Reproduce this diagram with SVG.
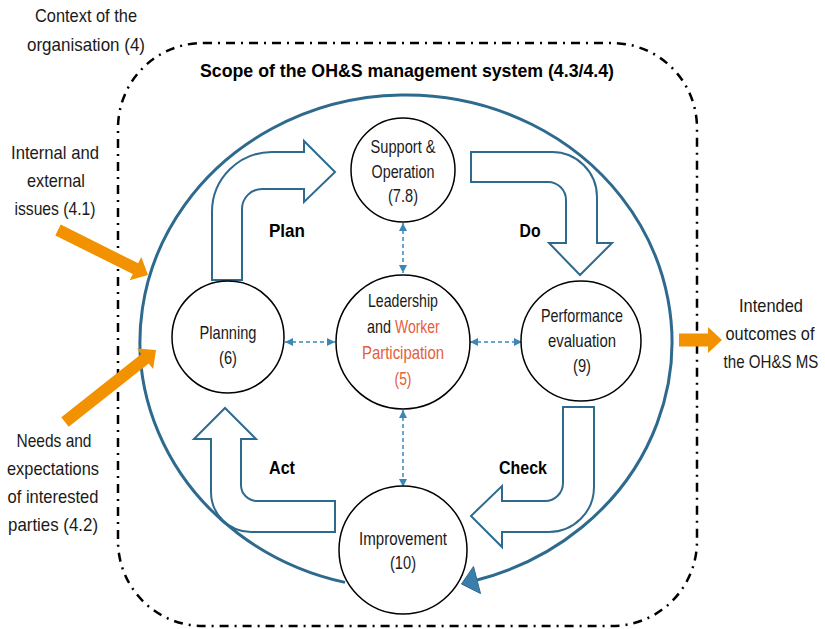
<svg xmlns="http://www.w3.org/2000/svg" width="825" height="629" viewBox="0 0 825 629">
<defs>
<style>
.t{font-family:"Liberation Sans",Arial,sans-serif;font-size:19px;fill:#1a1a1a;text-anchor:middle}
.s{text-anchor:start}
.b{font-weight:bold;fill:#000}
.r{fill:#e5603b}
.node{fill:#fff;stroke:#000;stroke-width:1.5}
.blk{fill:#fff;stroke:#2e6a8e;stroke-width:2;stroke-linejoin:miter}
.dash{fill:none;stroke:#3b87b8;stroke-width:1.5;stroke-dasharray:4 3}
.orng{fill:#f39200}
</style>
<marker id="ah" viewBox="0 0 10 10" refX="10" refY="5" markerUnits="userSpaceOnUse" markerWidth="8" markerHeight="8" orient="auto-start-reverse">
<path d="M0,0 L10,5 L0,10 z" fill="#3b87b8"/>
</marker>
</defs>
<rect width="825" height="629" fill="#fff"/>

<g id="scope-boundary">
<rect x="118" y="43" width="579" height="583" rx="85" ry="85" fill="none" stroke="#000" stroke-width="2.5" stroke-dasharray="9 6 2 6"/>
</g>

<g id="labels">
<text class="t" x="86" y="22" textLength="102" lengthAdjust="spacingAndGlyphs">Context of the</text>
<text class="t" x="86" y="51" textLength="118" lengthAdjust="spacingAndGlyphs">organisation (4)</text>
<text class="t b" x="407" y="77" textLength="414" lengthAdjust="spacingAndGlyphs">Scope of the OH&amp;S management system (4.3/4.4)</text>
<text class="t" x="55" y="159" textLength="88" lengthAdjust="spacingAndGlyphs">Internal and</text>
<text class="t" x="56" y="187" textLength="58" lengthAdjust="spacingAndGlyphs">external</text>
<text class="t" x="55" y="215" textLength="81" lengthAdjust="spacingAndGlyphs">issues (4.1)</text>
<text class="t" x="54" y="447" textLength="75" lengthAdjust="spacingAndGlyphs">Needs and</text>
<text class="t" x="53" y="475" textLength="92" lengthAdjust="spacingAndGlyphs">expectations</text>
<text class="t" x="53" y="503" textLength="91" lengthAdjust="spacingAndGlyphs">of interested</text>
<text class="t" x="53" y="531" textLength="90" lengthAdjust="spacingAndGlyphs">parties (4.2)</text>
<text class="t" transform="translate(771,312) scale(0.866,1)" x="0" y="0">Intended</text>
<text class="t" transform="translate(770,340) scale(0.86,1)" x="0" y="0">outcomes of</text>
<text class="t" transform="translate(771,368) scale(0.795,1)" x="0" y="0">the OH&amp;S MS</text>
<text class="t b" x="287" y="237" textLength="36" lengthAdjust="spacingAndGlyphs">Plan</text>
<text class="t b" x="530" y="237" textLength="21" lengthAdjust="spacingAndGlyphs">Do</text>
<text class="t b" x="282" y="474" textLength="26" lengthAdjust="spacingAndGlyphs">Act</text>
<text class="t b" x="523" y="474" textLength="48" lengthAdjust="spacingAndGlyphs">Check</text>
</g>

<g id="cycle-arrows">
<path class="blk" d="M212,280 V212 A60,60 0 0 1 272,152 H304 V141 L335,172 L304,202 V189 H262 A20,20 0 0 0 242,209 V280 Z"/>
<path class="blk" d="M471,152 H552 A45,45 0 0 1 597,197 V243 H612 L580,275 L549,243 H566 V200 A18,18 0 0 0 548,182 H471 Z"/>
<path class="blk" d="M563,407 H594 V487 A45,45 0 0 1 549,532 H502 V547 L471,516 L502,486 V501 H545 A18,18 0 0 0 563,483 Z"/>
<path class="blk" d="M335,501 H257 A16,16 0 0 1 241,485 V439 H256 L225,408 L194,439 H211 V492 A40,40 0 0 0 251,532 H335 Z"/>
</g>

<g id="connectors">
<path d="M345,582.4 A266,247 0 1 1 477,580" fill="none" stroke="#2e6a8e" stroke-width="3"/>
<polygon points="461.5,584 473.5,566.5 480.5,593.5" fill="#3a7fac" stroke="#2e6a8e" stroke-width="1"/>
<line class="dash" x1="403" y1="223" x2="403" y2="273" marker-start="url(#ah)" marker-end="url(#ah)"/>
<line class="dash" x1="403" y1="410" x2="403" y2="487" marker-start="url(#ah)" marker-end="url(#ah)"/>
<line class="dash" x1="285" y1="342" x2="335" y2="342" marker-start="url(#ah)" marker-end="url(#ah)"/>
<line class="dash" x1="470" y1="342" x2="522" y2="342" marker-start="url(#ah)" marker-end="url(#ah)"/>
<polygon class="orng" points="60.7,224.6 138.2,263.3 141.3,257.1 148,275 129.7,280.3 132.8,274.1 55.3,235.4"/>
<polygon class="orng" points="61.3,417.3 141.3,354 136.9,348.5 156,350 153.1,368.9 148.7,363.4 68.7,426.7"/>
<polygon class="orng" points="679,333.5 708,333.5 708,327 722,340 708,353 708,346.5 679,346.5"/>
</g>

<g id="n-support">
<circle class="node" cx="403" cy="170" r="52"/>
<text class="t" x="403" y="153" textLength="65" lengthAdjust="spacingAndGlyphs">Support &amp;</text>
<text class="t" x="403" y="178" textLength="63" lengthAdjust="spacingAndGlyphs">Operation</text>
<text class="t" x="403" y="202" textLength="30" lengthAdjust="spacingAndGlyphs">(7.8)</text>
</g>
<g id="n-leadership">
<circle class="node" cx="403" cy="342" r="67"/>
<text class="t" x="403" y="307" textLength="70" lengthAdjust="spacingAndGlyphs">Leadership</text>
<text class="t s" transform="translate(367,333) scale(0.757,1)" x="0" y="0">and</text>
<text class="t s r" transform="translate(395,333) scale(0.735,1)" x="0" y="0">Worker</text>
<text class="t r" x="403" y="359" textLength="82" lengthAdjust="spacingAndGlyphs">Participation</text>
<text class="t r" x="403" y="385" textLength="17" lengthAdjust="spacingAndGlyphs">(5)</text>
</g>
<g id="n-planning">
<circle class="node" cx="228" cy="337" r="56"/>
<text class="t" x="228" y="339" textLength="57" lengthAdjust="spacingAndGlyphs">Planning</text>
<text class="t" x="228" y="364" textLength="18" lengthAdjust="spacingAndGlyphs">(6)</text>
</g>
<g id="n-performance">
<circle class="node" cx="581" cy="341" r="60"/>
<text class="t" x="582" y="322" textLength="82" lengthAdjust="spacingAndGlyphs">Performance</text>
<text class="t" x="582" y="347" textLength="68" lengthAdjust="spacingAndGlyphs">evaluation</text>
<text class="t" x="582" y="372" textLength="18" lengthAdjust="spacingAndGlyphs">(9)</text>
</g>
<g id="n-improvement">
<circle class="node" cx="403" cy="550" r="64"/>
<text class="t" x="403" y="545" textLength="88" lengthAdjust="spacingAndGlyphs">Improvement</text>
<text class="t" x="403" y="569" textLength="26" lengthAdjust="spacingAndGlyphs">(10)</text>
</g>
</svg>
